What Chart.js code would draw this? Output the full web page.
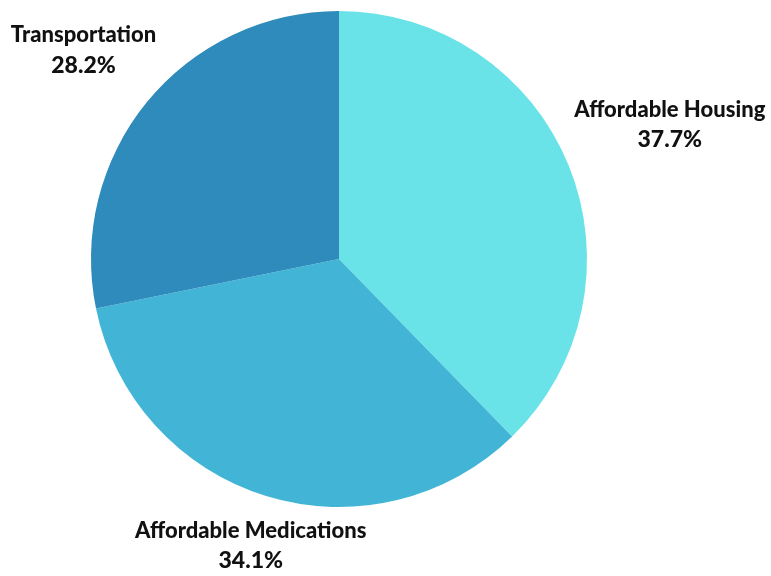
<!DOCTYPE html>
<html>
<head>
<meta charset="utf-8">
<script src="https://cdn.jsdelivr.net/npm/chart.js@4/dist/chart.umd.min.js"></script>
<style>
html,body{margin:0;padding:0;background:#fff;}
#wrap{width:771px;height:576px;position:relative;}
</style>
</head>
<body>
<div id="wrap"><canvas id="c" width="771" height="576"></canvas></div>
<script>
const categories = ["Affordable Housing", "Affordable Medications", "Transportation"];
const values = [37.7, 34.1, 28.2];
const colors = ["#6ae3e8", "#42b5d6", "#2e8bbb"];
const labelDist = [1.44, 1.21, 1.33];

const labelPlugin = {
  id: 'outLabels',
  afterDatasetsDraw(chart) {
    const ctx = chart.ctx;
    const meta = chart.getDatasetMeta(0);
    ctx.save();
    ctx.fillStyle = '#111';
    ctx.textAlign = 'center';
    ctx.textBaseline = 'middle';
    meta.data.forEach((arc, i) => {
      const p = arc.getProps(['x','y','startAngle','endAngle','outerRadius'], true);
      const mid = (p.startAngle + p.endAngle) / 2;
      const r = p.outerRadius * labelDist[i];
      const x = p.x + Math.cos(mid) * r;
      const y = p.y + Math.sin(mid) * r;
      ctx.font = '900 22px Lato, "Open Sans", sans-serif';
      ctx.fillText(categories[i], x, y - 15);
      ctx.font = '900 23px Lato, "Open Sans", sans-serif';
      ctx.fillText(values[i].toFixed(1) + '%', x, y + 15);
    });
    ctx.restore();
  }
};

new Chart(document.getElementById('c'), {
  type: 'pie',
  data: {
    labels: categories,
    datasets: [{
      data: values,
      backgroundColor: colors,
      borderWidth: 0
    }]
  },
  options: {
    responsive: false,
    animation: false,
    layout: { padding: { top: 11, bottom: 69, left: 0, right: 93 } },
    plugins: { legend: { display: false }, tooltip: { enabled: false } }
  },
  plugins: [labelPlugin]
});
</script>
</body>
</html>
